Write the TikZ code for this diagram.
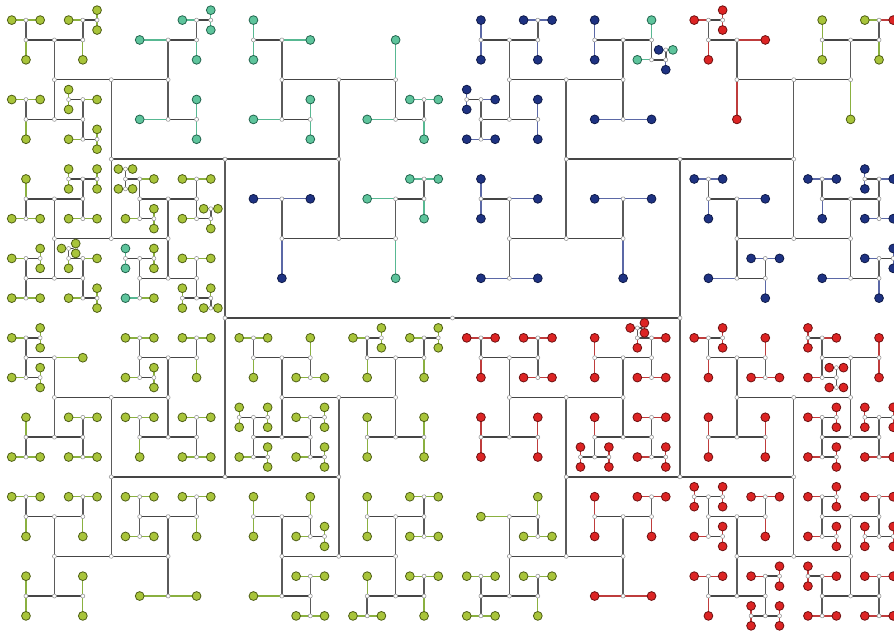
\documentclass[tikz,border=0pt]{standalone}
\definecolor{gF}{HTML}{A8C43A}
\definecolor{gD}{HTML}{4E5E14}
\definecolor{gE}{HTML}{8AB040}
\definecolor{tF}{HTML}{5EC49C}
\definecolor{tD}{HTML}{22654E}
\definecolor{tE}{HTML}{58B892}
\definecolor{bF}{HTML}{1E3282}
\definecolor{bD}{HTML}{0E1A48}
\definecolor{bE}{HTML}{5B68A6}
\definecolor{rF}{HTML}{DC2424}
\definecolor{rD}{HTML}{6E1010}
\definecolor{rE}{HTML}{BE3C3C}
\definecolor{lnH}{HTML}{454545}
\definecolor{lnV}{HTML}{5A5A5A}
\definecolor{jD}{HTML}{9A9A9A}
\tikzset{
  edgeIH/.style={draw=lnH, line width=1.4pt},
  edgeIV/.style={draw=lnV, line width=1.5pt},
  edgeg/.style={draw=gE, line width=1.3pt},
  edget/.style={draw=tE, line width=1.3pt},
  edgeb/.style={draw=bE, line width=1.3pt},
  edger/.style={draw=rE, line width=1.3pt},
  leafbase/.style={circle, line width=0.8pt, inner sep=0pt, minimum size=8.8pt},
  leafg/.style={leafbase, draw=gD, fill=gF},
  leaft/.style={leafbase, draw=tD, fill=tF},
  leafb/.style={leafbase, draw=bD, fill=bF},
  leafr/.style={leafbase, draw=rD, fill=rF},
  junc/.style={circle, draw=jD, fill=white, line width=0.6pt, inner sep=0pt, minimum size=4pt},
}
\newcount\Hlevel
\newcount\Hmode
\def\HGg{g}\def\HGt{t}\def\HGb{b}\def\HGr{r}
\def\Hsel#1{\def\Htmp{#1}%
  \ifx\Htmp\HGg\Hleaf{g}\else
  \ifx\Htmp\HGt\Hleaf{t}\else
  \ifx\Htmp\HGb\Hleaf{b}\else
  \ifx\Htmp\HGr\Hleaf{r}\else
  \Htmp\fi\fi\fi\fi}
\def\Hleaf#1{%
  \ifnum\Hmode=0
    \coordinate (\Hname) at (\Hx,\Hy);%
    \draw[edge#1] (\Hpname) -- (\Hname);%
  \else
    \node[leaf#1] (n\Hname) at (\Hname) {};%
  \fi
}
\def\N#1#2{%
  \ifnum\Hmode=0
    \coordinate (\Hname) at (\Hx,\Hy);%
    \ifodd\Hlevel \def\Hdir{H}\else \def\Hdir{V}\fi
    \ifnum\Hlevel>0 \draw[edgeI\Hdir] (\Hpname) -- (\Hname);\fi
  \else
    \node[junc] (n\Hname) at (\Hname) {};%
  \fi
  \edef\Hh{\ifcase\Hlevel 32\or 16\or 16\or 8\or 8\or 4\or 4\or 2\or 2\or 1\or 1\or 0.5\or 0.5\else 0.25\fi}%
  \begingroup
    \edef\Hpname{\Hname}\edef\Hname{\Hname a}%
    \ifodd\Hlevel \pgfmathsetmacro\Hy{\Hy+\Hh}\else \pgfmathsetmacro\Hx{\Hx-\Hh}\fi
    \advance\Hlevel by 1
    \Hsel{#1}%
  \endgroup
  \begingroup
    \edef\Hpname{\Hname}\edef\Hname{\Hname b}%
    \ifodd\Hlevel \pgfmathsetmacro\Hy{\Hy-\Hh}\else \pgfmathsetmacro\Hx{\Hx+\Hh}\fi
    \advance\Hlevel by 1
    \Hsel{#2}%
  \endgroup
}
% ---- level-4 blocks: column A..D (left to right), row a..d (top to bottom)
\def\BAa{\N
{\N
 {\N{\N{\N{g}{g}}{g}}{\N{\N{g}{\N{g}{g}}}{g}}}
 {\N{\N{\N{g}{g}}{g}}{\N{\N{\N{g}{g}}{g}}{\N{g}{\N{g}{g}}}}}}
{\N
 {\N{t}{\N{\N{t}{\N{t}{t}}}{t}}}
 {\N{t}{\N{t}{t}}}}}
\def\BBa{\N
{\N
 {\N{\N{t}{t}}{t}}
 {\N{t}{\N{t}{t}}}}
{\N
 {t}
 {\N{t}{\N{\N{t}{t}}{t}}}}}
\def\BCa{\N
{\N
 {\N{\N{b}{b}}{\N{\N{b}{b}}{b}}}
 {\N{\N{\N{\N{b}{b}}{b}}{\N{b}{b}}}{\N{b}{b}}}}
{\N
 {\N{\N{b}{b}}{\N{t}{\N{t}{\N{\N{b}{t}}{b}}}}}
 {\N{b}{b}}}}
\def\BDa{\N
{\N
 {\N{\N{\N{r}{\N{r}{r}}}{r}}{r}}
 {r}}
{\N
 {\N{\N{g}{g}}{\N{\N{g}{r}}{g}}}
 {g}}}
\def\BAb{\N
{\N
 {\N{\N{g}{\N{g}{g}}}{\N{\N{\N{g}{g}}{\N{g}{g}}}{\N{g}{g}}}}
 {\N{\N{\N{g}{\N{g}{g}}}{\N{g}{g}}}{\N{\N{\N{\N{g}{\N{g}{g}}}{g}}{g}}{\N{g}{\N{g}{g}}}}}}
{\N
 {\N{\N{\N{\N{\N{g}{g}}{\N{g}{g}}}{g}}{\N{g}{\N{g}{g}}}}{\N{\N{g}{g}}{\N{g}{\N{\N{g}{g}}{g}}}}}
 {\N{\N{\N{\N{t}{t}}{\N{g}{g}}}{\N{t}{g}}}{\N{\N{g}{g}}{\N{\N{g}{g}}{\N{g}{\N{g}{g}}}}}}}}
\def\BBb{\N
{\N
 {\N{b}{b}}
 {b}}
{\N
 {\N{t}{\N{\N{t}{t}}{t}}}
 {t}}}
\def\BCb{\N
{\N
 {\N{\N{b}{b}}{b}}
 {\N{b}{b}}}
{\N
 {\N{b}{b}}
 {b}}}
\def\BDb{\N
{\N
 {\N{\N{\N{b}{b}}{b}}{b}}
 {\N{b}{\N{\N{b}{b}}{b}}}}
{\N
 {\N{\N{\N{b}{b}}{b}}{\N{\N{\N{b}{b}}{b}}{\N{b}{b}}}}
 {\N{b}{\N{\N{b}{\N{b}{b}}}{b}}}}}
\def\BAc{\N
{\N
 {\N{\N{\N{g}{\N{g}{g}}}{\N{g}{\N{g}{g}}}}{g}}
 {\N{\N{g}{\N{g}{g}}}{\N{\N{g}{g}}{\N{g}{g}}}}}
{\N
 {\N{\N{\N{g}{g}}{\N{g}{\N{g}{g}}}}{\N{\N{g}{g}}{g}}}
 {\N{\N{\N{g}{g}}{g}}{\N{\N{g}{g}}{\N{g}{g}}}}}}
\def\BBc{\N
{\N
 {\N{\N{\N{g}{g}}{g}}{\N{g}{\N{g}{g}}}}
 {\N{\N{\N{\N{g}{g}}{\N{g}{g}}}{\N{g}{\N{g}{g}}}}{\N{\N{g}{\N{g}{g}}}{\N{g}{\N{g}{g}}}}}}
{\N
 {\N{\N{\N{g}{\N{g}{g}}}{g}}{\N{\N{g}{\N{g}{g}}}{g}}}
 {\N{\N{g}{g}}{\N{g}{g}}}}}
\def\BCc{\N
{\N
 {\N{\N{\N{r}{r}}{r}}{\N{\N{r}{r}}{\N{r}{r}}}}
 {\N{\N{r}{r}}{\N{r}{r}}}}
{\N
 {\N{\N{r}{r}}{\N{\N{\N{\N{r}{\N{r}{r}}}{r}}{r}}{\N{r}{r}}}}
 {\N{\N{r}{\N{\N{r}{r}}{\N{r}{r}}}}{\N{\N{r}{r}}{\N{r}{\N{r}{r}}}}}}}
\def\BDc{\N
{\N
 {\N{\N{\N{r}{\N{r}{r}}}{r}}{\N{r}{\N{r}{r}}}}
 {\N{\N{r}{r}}{\N{r}{r}}}}
{\N
 {\N{\N{\N{\N{r}{r}}{r}}{\N{r}{\N{\N{r}{r}}{\N{r}{r}}}}}{\N{r}{r}}}
 {\N{\N{\N{r}{\N{r}{r}}}{\N{r}{\N{r}{r}}}}{\N{\N{\N{r}{r}}{\N{r}{r}}}{\N{r}{r}}}}}}
\def\BAd{\N
{\N
 {\N{\N{\N{g}{g}}{g}}{\N{\N{g}{g}}{g}}}
 {\N{\N{g}{g}}{\N{g}{g}}}}
{\N
 {\N{\N{\N{g}{g}}{\N{g}{g}}}{\N{\N{g}{g}}{g}}}
 {\N{g}{g}}}}
\def\BBd{\N
{\N
 {\N{\N{g}{g}}{\N{g}{\N{g}{\N{g}{g}}}}}
 {\N{g}{\N{\N{g}{g}}{\N{g}{g}}}}}
{\N
 {\N{\N{g}{g}}{\N{\N{g}{g}}{\N{g}{g}}}}
 {\N{\N{g}{\N{g}{g}}}{\N{\N{g}{g}}{g}}}}}
\def\BCd{\N
{\N
 {\N{g}{\N{g}{\N{g}{g}}}}
 {\N{\N{\N{g}{g}}{\N{g}{g}}}{\N{\N{g}{g}}{g}}}}
{\N
 {\N{\N{r}{r}}{\N{\N{r}{r}}{r}}}
 {\N{r}{r}}}}
\def\BDd{\N
{\N
 {\N{\N{\N{\N{r}{r}}{\N{r}{r}}}{\N{r}{\N{r}{r}}}}{\N{\N{r}{r}}{r}}}
 {\N{\N{\N{r}{r}}{r}}{\N{\N{r}{\N{r}{r}}}{\N{\N{r}{r}}{\N{r}{r}}}}}}
{\N
 {\N{\N{\N{r}{\N{r}{r}}}{\N{r}{\N{r}{r}}}}{\N{\N{r}{r}}{\N{\N{r}{r}}{\N{r}{r}}}}}
 {\N{\N{\N{\N{r}{r}}{r}}{\N{r}{r}}}{\N{\N{r}{r}}{\N{r}{r}}}}}}
\def\Htree{\N
 {\N{\N{\N{\BAa}{\BAb}}{\N{\BBa}{\BBb}}}{\N{\N{\BAc}{\BAd}}{\N{\BBc}{\BBd}}}}
 {\N{\N{\N{\BCa}{\BCb}}{\N{\BDa}{\BDb}}}{\N{\N{\BCc}{\BCd}}{\N{\BDc}{\BDd}}}}}
\begin{document}
\begin{tikzpicture}[x=7.109pt, y=9.93pt]
\path[use as bounding box, fill=white] (-452.5pt,-313pt) rectangle (441.5pt,318pt);
% pass 1: named points and connectors
\begingroup
\def\Hx{0}\def\Hy{0}\def\Hname{h}\def\Hpname{h}\Hlevel=0 \Hmode=0
\Hsel{\Htree}
\endgroup
% pass 2: junction and leaf nodes at the named points
\begingroup
\def\Hx{0}\def\Hy{0}\def\Hname{h}\def\Hpname{h}\Hlevel=0 \Hmode=1
\Hsel{\Htree}
\endgroup
\end{tikzpicture}
\end{document}
